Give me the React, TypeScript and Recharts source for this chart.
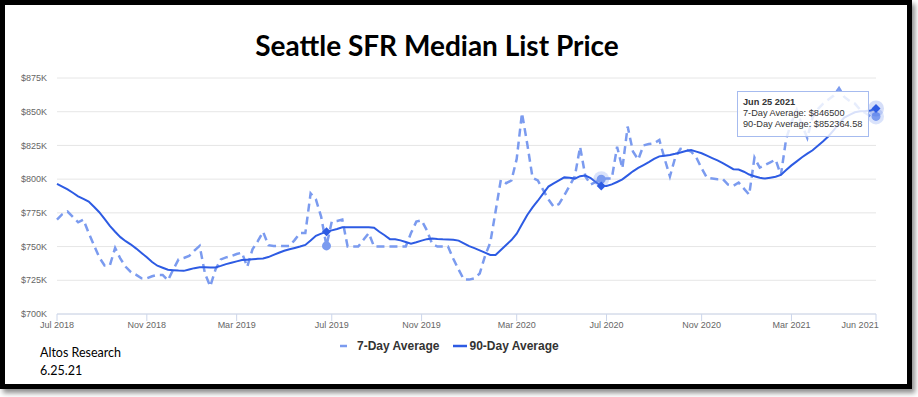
import { LineChart, Line, XAxis, YAxis, CartesianGrid, Tooltip } from "recharts";

const START = Date.UTC(2018, 6, 6);
const MONTHS = ["Jan", "Feb", "Mar", "Apr", "May", "Jun", "Jul", "Aug", "Sep", "Oct", "Nov", "Dec"];

// weekly 7-day average list price ($)
const SEVEN_DAY = [
  770000, 774000, 776000, 772000, 768000, 770000, 760000, 751000, 742000, 736000,
  736000, 749000, 741000, 735000, 731000, 729000, 726500, 726500, 728000, 729000,
  729000, 725000, 733000, 740500, 741500, 743000, 747000, 750500, 730000, 720500,
  733000, 740500, 742000, 743000, 744500, 745500, 735000, 748000, 754000, 761000,
  751000, 750500, 750500, 750500, 750500, 755000, 760000, 760000, 789500, 785000,
  772000, 750500, 768500, 769000, 770000, 750000, 750000, 750000, 755000, 760000,
  750000, 750000, 750000, 750000, 750000, 750000, 750000, 760000, 768500, 769500,
  762000, 752000, 750000, 750000, 750000, 741000, 733000, 725500, 725500, 726500,
  730000, 743000, 753000, 776000, 799500, 797000, 799000, 815000, 849000, 826000,
  801000, 799000, 792000, 785000, 779500, 781500, 788000, 795000, 802000, 824000,
  802000, 796000, 798000, 800000, 800500, 800500, 824000, 808000, 839000, 820500,
  814500, 825000, 826000, 826500, 829000, 815000, 802000, 816000, 822500, 822000,
  820500, 816000, 808000, 801000, 800500, 800000, 800000, 796000, 795000, 797500,
  793000, 788500, 816000, 808500, 810500, 812500, 814500, 803000, 830000, 842000,
  851500, 840000, 830500, 846000, 852000, 856000, 859000, 862000, 867500, 861000,
  858000, 856000, 851500, 849000, 846500, 846500,
];

// weekly 90-day average list price ($)
const NINETY_DAY = [
  796500, 794500, 792400, 789900, 787300, 785300, 783400, 779500, 775500, 770500,
  765300, 761000, 757000, 754000, 751500, 748500, 745300, 742000, 738500, 735800,
  734300, 732800, 732500, 732200, 732000, 733000, 734000, 734700, 734600, 734500,
  734500, 735700, 737000, 738000, 739000, 740000, 740300, 740600, 740900, 741200,
  742200, 743800, 745400, 746900, 748000, 749000, 750000, 751200, 754500, 758000,
  759600, 760900, 762000, 763000, 764300, 764400, 764400, 764400, 764400, 764400,
  764000, 761000, 758400, 755500, 755500, 754600, 753400, 752200, 753200, 754400,
  755500, 755900, 755600, 755400, 755300, 755100, 754400, 752400, 750300, 748800,
  747200, 745500, 743800, 743800, 747500, 751200, 754800, 759500, 766500, 773400,
  779000, 784000, 789300, 794500, 796800, 799000, 801300, 801000, 800400, 802200,
  802700, 800800, 797700, 795000, 795000, 796100, 797900, 799800, 802800, 805800,
  808300, 810400, 812600, 815000, 816900, 817400, 817900, 818800, 819800, 820900,
  821600, 820400, 819200, 817400, 815600, 813900, 811900, 809700, 807400, 807100,
  805500, 803400, 802100, 801000, 800400, 801100, 801800, 803100, 806800, 810200,
  813200, 816200, 818900, 821400, 824700, 828100, 831800, 836300, 841100, 845700,
  847600, 849600, 850400, 850600, 850900, 852364.58,
];

const WEEKS = SEVEN_DAY.map((_, i) => {
  const d = new Date(START + i * 7 * 86400000);
  return `${MONTHS[d.getUTCMonth()]} ${d.getUTCDate()} ${d.getUTCFullYear()}`;
});

const TICK_IDX = [0, 17, 34, 52, 69, 87, 104, 122, 139, 152, 155];
const TICK_LABELS = ["Jul 2018", "Nov 2018", "Mar 2019", "Jul 2019", "Nov 2019", "Mar 2020", "Jul 2020", "Nov 2020", "Mar 2021", "Jun 2021", ""];
const Y_TICKS = [700000, 725000, 750000, 775000, 800000, 825000, 850000, 875000];

const MARKED = [51, 103, 155];
const HALO_SEVEN = [103, 155];
const HALO_NINETY = [155];

const SERIES_NAMES = ["7-Day Average", "90-Day Average"];
const C_SEVEN = "#7b9bef";
const C_NINETY = "#2d5be3";

const data = WEEKS.map((week, i) => ({ week, seven: SEVEN_DAY[i], ninety: NINETY_DAY[i] }));
const tickValues = TICK_IDX.map((i) => WEEKS[i]);

const AXIS_FONT = "'Liberation Sans', Arial, sans-serif";

function XTick(props: any) {
  const { x, y, payload } = props;
  const k = tickValues.indexOf(payload.value);
  const label = TICK_LABELS[k];
  return (
    <g>
      {label !== "Jun 2021" && <line x1={x} x2={x} y1={y - 8} y2={y - 1} stroke="#ccd6eb" />}
      {label && (
        <text x={x} y={y} dy="0.71em" textAnchor="middle" fontSize={9} fill="#666" fontFamily={AXIS_FONT}>
          {label}
        </text>
      )}
    </g>
  );
}

function SevenDot(props: any) {
  const { cx, cy, index } = props;
  if (!MARKED.includes(index)) return <g key={index} />;
  return (
    <g key={index}>
      {HALO_SEVEN.includes(index) && <circle cx={cx} cy={cy} r={8} fill={C_SEVEN} fillOpacity={0.28} />}
      <circle cx={cx} cy={cy} r={4.5} fill={C_SEVEN} />
    </g>
  );
}

function NinetyDot(props: any) {
  const { cx, cy, index } = props;
  if (!MARKED.includes(index)) return <g key={index} />;
  const s = 4.5;
  return (
    <g key={index}>
      {HALO_NINETY.includes(index) && <circle cx={cx} cy={cy} r={8} fill={C_NINETY} fillOpacity={0.2} />}
      <path d={`M${cx},${cy - s}L${cx + s},${cy}L${cx},${cy + s}L${cx - s},${cy}Z`} fill={C_NINETY} />
    </g>
  );
}

function TipBox(props: any) {
  const { payload, label } = props;
  if (!payload || !payload.length) return null;
  return (
    <div
      style={{
        background: "rgba(255,255,255,0.82)",
        border: "1px solid #a6bbef",
        padding: "5px 6px 6px 5px",
        fontFamily: AXIS_FONT,
        fontSize: 9.2,
        lineHeight: "11px",
        color: "#333",
        whiteSpace: "nowrap",
      }}
    >
      <div style={{ fontWeight: "bold" }}>{label}</div>
      {payload.map((p: any) => (
        <div key={p.dataKey}>
          {p.name}: ${p.value}
        </div>
      ))}
    </div>
  );
}

function LegendItem({ name, dashed, color }: { name: string; dashed: boolean; color: string }) {
  return (
    <div style={{ display: "flex", alignItems: "center", marginRight: 12 }}>
      <svg width={16} height={6}>
        <line x1={1} x2={dashed ? 8 : 15} y1={3} y2={3} stroke={color} strokeWidth={2.5} />
      </svg>
      <span style={{ marginLeft: 2 }}>{name}</span>
    </div>
  );
}

export default function App() {
  return (
    <div style={{ position: "absolute", left: 0, top: 0, width: 918, height: 397, background: "#fff", overflow: "hidden" }}>
      <div
        style={{
          position: "absolute",
          left: 0,
          top: 0,
          width: 912,
          height: 389,
          border: "5px solid #000",
          boxSizing: "border-box",
          boxShadow: "3px 4px 5px rgba(0,0,0,0.45)",
        }}
      />
      <div
        style={{
          position: "absolute",
          left: 0,
          top: 27,
          width: 874,
          textAlign: "center",
          fontFamily: "Lato, 'Open Sans', sans-serif",
          fontWeight: "bold",
          fontSize: 28,
          lineHeight: "36px",
          color: "#000",
        }}
      >
        Seattle SFR Median List Price
      </div>
      <div style={{ position: "absolute", left: 0, top: 0 }}>
        <LineChart width={918} height={397} data={data} margin={{ top: 78, right: 42, bottom: 53, left: 0 }}>
          <CartesianGrid vertical={false} stroke="#e6e6e6" />
          <XAxis
            dataKey="week"
            ticks={tickValues}
            interval={0}
            tick={<XTick />}
            tickLine={false}
            axisLine={{ stroke: "#ccd6eb" }}
            height={30}
          />
          <YAxis
            domain={[700000, 875000]}
            ticks={Y_TICKS}
            tickFormatter={(v: number) => `$${v / 1000}K`}
            axisLine={false}
            tickLine={false}
            tickSize={0}
            tickMargin={10}
            width={57}
            tick={{ fontSize: 9, fill: "#666", fontFamily: AXIS_FONT }}
          />
          <Tooltip
            defaultIndex={155}
            active
            cursor={false}
            isAnimationActive={false}
            position={{ x: 737, y: 91 }}
            content={<TipBox />}
          />
          <Line
            type="linear"
            dataKey="seven"
            name={SERIES_NAMES[0]}
            stroke={C_SEVEN}
            strokeWidth={2.5}
            strokeDasharray="8 5"
            dot={<SevenDot />}
            activeDot={false}
            isAnimationActive={false}
          />
          <Line
            type="linear"
            dataKey="ninety"
            name={SERIES_NAMES[1]}
            stroke={C_NINETY}
            strokeWidth={2}
            dot={<NinetyDot />}
            activeDot={false}
            isAnimationActive={false}
          />
        </LineChart>
      </div>
      <div
        style={{
          position: "absolute",
          left: 339,
          top: 339,
          display: "flex",
          fontFamily: AXIS_FONT,
          fontWeight: "bold",
          fontSize: 12,
          lineHeight: "14px",
          color: "#333",
        }}
      >
        <LegendItem name={SERIES_NAMES[0]} dashed color={C_SEVEN} />
        <LegendItem name={SERIES_NAMES[1]} dashed={false} color={C_NINETY} />
      </div>
      <div
        style={{
          position: "absolute",
          left: 40,
          top: 344,
          fontFamily: "Lato, 'Open Sans', sans-serif",
          fontSize: 12.5,
          lineHeight: "18px",
          color: "#000",
        }}
      >
        <div>Altos Research</div>
        <div>6.25.21</div>
      </div>
    </div>
  );
}
